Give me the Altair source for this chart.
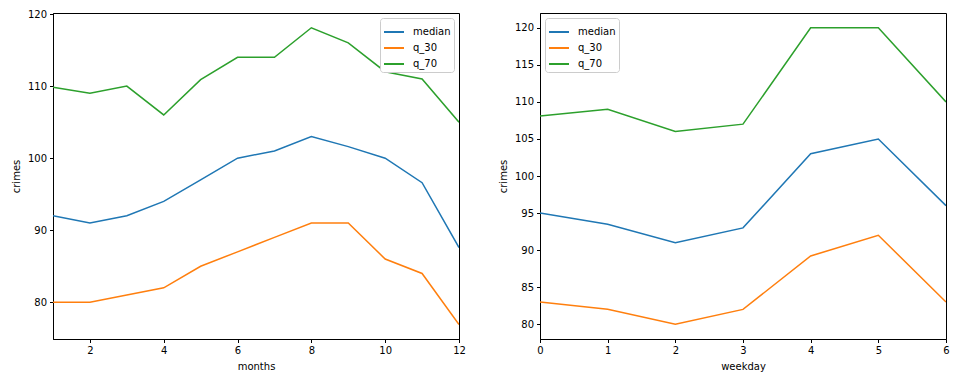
import altair as alt
import pandas as pd

series_names = ["median", "q_30", "q_70"]
colors = ["#1f77b4", "#ff7f0e", "#2ca02c"]

months = [1, 2, 3, 4, 5, 6, 7, 8, 9, 10, 11, 12]
m_median = [92, 91, 92, 94, 97, 100, 101, 103, 101.6, 100, 96.6, 87.6]
m_q30 = [80, 80, 81, 82, 85, 87, 89, 91, 91, 86, 84, 76.9]
m_q70 = [109.85, 109, 110, 106, 110.9, 114, 114, 118.1, 116, 112, 111, 105]

weekdays = [0, 1, 2, 3, 4, 5, 6]
w_median = [95, 93.5, 91, 93, 103, 105, 96]
w_q30 = [83, 82, 80, 82, 89.2, 92, 83]
w_q70 = [108.1, 109, 106, 107, 120, 120, 110]

month_ticks = [2, 4, 6, 8, 10, 12]
month_yticks = [80, 90, 100, 110, 120]
week_ticks = [0, 1, 2, 3, 4, 5, 6]
week_yticks = [80, 85, 90, 95, 100, 105, 110, 115, 120]


def long_df(xname, xs, arrays):
    rows = []
    for name, arr in zip(series_names, arrays):
        for x, v in zip(xs, arr):
            rows.append({xname: x, "series": name, "crimes": v})
    return pd.DataFrame(rows)


df_m = long_df("months", months, [m_median, m_q30, m_q70])
df_w = long_df("weekday", weekdays, [w_median, w_q30, w_q70])

color_scale = alt.Scale(domain=series_names, range=colors)


def panel(df, xname, xdomain, xticks, ydomain, yticks, legend_orient):
    return alt.Chart(df).mark_line(strokeWidth=1.5, clip=True).encode(
        x=alt.X(f"{xname}:Q", title=xname,
                scale=alt.Scale(domain=xdomain, nice=False, zero=False),
                axis=alt.Axis(values=xticks, format="d")),
        y=alt.Y("crimes:Q", title="crimes",
                scale=alt.Scale(domain=ydomain, nice=False, zero=False),
                axis=alt.Axis(values=yticks, format="d")),
        color=alt.Color("series:N", scale=color_scale,
                        legend=alt.Legend(title=None, orient=legend_orient,
                                          symbolType="stroke", symbolSize=400,
                                          symbolStrokeWidth=2,
                                          labelFontSize=10, padding=3,
                                          offset=5,
                                          fillColor="white",
                                          strokeColor="#cccccc",
                                          cornerRadius=3, rowPadding=0,
                                          labelOffset=8)),
    ).properties(width=406, height=326)


left = panel(df_m, "months", [1, 12], month_ticks, [74.9, 120.15], month_yticks, "top-right")
right = panel(df_w, "weekday", [0, 6], week_ticks, [78, 122], week_yticks, "top-left")

chart = alt.hconcat(left, right, spacing=81, bounds="flush").resolve_scale(
    color="independent"
).resolve_legend(color="independent").properties(
    padding={"left": 2, "top": 0, "right": 5, "bottom": 5}
).configure_view(
    stroke="black", strokeWidth=1
).configure_axis(
    grid=False, domainColor="black", tickColor="black", tickSize=3.5,
    labelFont="DejaVu Sans", labelFontSize=10, labelColor="black",
    titleFont="DejaVu Sans", titleFontSize=10, titleColor="black",
    titleFontWeight="normal", labelPadding=3, titlePadding=6,
    labelFlush=False,
).configure_legend(
    labelFont="DejaVu Sans"
)

chart.save("out.html", embed_options={"renderer": "svg", "actions": False})
